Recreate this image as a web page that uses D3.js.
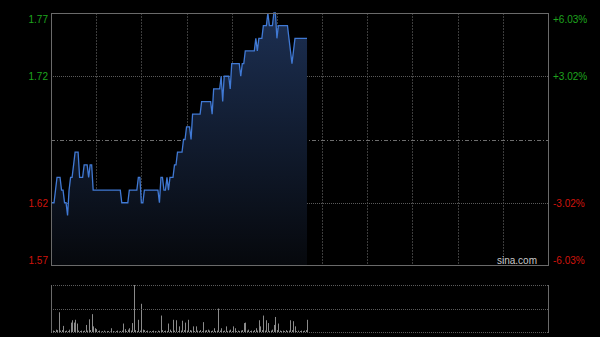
<!DOCTYPE html>
<html>
<head>
<meta charset="utf-8">
<script src="https://cdn.jsdelivr.net/npm/d3@7"></script>
<style>
  body { margin: 0; background: #000; }
  svg { display: block; }
  text { font-family: "Liberation Sans", Arial, sans-serif; font-size: 10px; }
</style>
</head>
<body>
<svg width="600" height="337"></svg>
<script>
(function () {

  // minute-by-minute price (HK session, 330 minutes, chart stops at minute 170)
  var prices = [
    1.62, 1.62, 1.62, 1.63, 1.64, 1.64, 1.64, 1.63, 1.63, 1.62,
    1.62, 1.61, 1.63, 1.64, 1.64, 1.65, 1.66, 1.66, 1.66, 1.64,
    1.64, 1.64, 1.65, 1.65, 1.65, 1.64, 1.65, 1.65, 1.63, 1.63,
    1.63, 1.63, 1.63, 1.63, 1.63, 1.63, 1.63, 1.63, 1.63, 1.63,
    1.63, 1.63, 1.63, 1.63, 1.63, 1.63, 1.63, 1.62, 1.62, 1.62,
    1.62, 1.62, 1.63, 1.63, 1.63, 1.63, 1.63, 1.63, 1.64, 1.64,
    1.62, 1.62, 1.63, 1.63, 1.63, 1.63, 1.63, 1.63, 1.63, 1.63,
    1.63, 1.63, 1.62, 1.64, 1.64, 1.63, 1.63, 1.64, 1.63, 1.64,
    1.64, 1.64, 1.65, 1.65, 1.66, 1.66, 1.66, 1.66, 1.67, 1.67,
    1.68, 1.68, 1.68, 1.67, 1.69, 1.69, 1.69, 1.69, 1.69, 1.69,
    1.70, 1.70, 1.70, 1.70, 1.70, 1.70, 1.70, 1.69, 1.71, 1.71,
    1.71, 1.71, 1.71, 1.72, 1.70, 1.72, 1.72, 1.72, 1.72, 1.71,
    1.73, 1.73, 1.73, 1.73, 1.73, 1.73, 1.72, 1.73, 1.73, 1.74,
    1.74, 1.74, 1.74, 1.74, 1.74, 1.74, 1.75, 1.74, 1.75, 1.75,
    1.75, 1.76, 1.76, 1.76, 1.77, 1.76, 1.76, 1.76, 1.77, 1.77,
    1.75, 1.76, 1.76, 1.76, 1.76, 1.76, 1.76, 1.76, 1.75, 1.74,
    1.73, 1.74, 1.75, 1.75, 1.75, 1.75, 1.75, 1.75, 1.75, 1.75,
    1.75
  ]

  // volume per minute, relative units (biggest bar = 100)
  var volumes = [
    40, 3, 2, 5, 4, 42, 3, 4, 13, 2,
    3, 2, 5, 20, 25, 20, 26, 18, 3, 2,
    3, 2, 3, 15, 3, 27, 4, 38, 12, 8,
    6, 2, 3, 1, 2, 3, 1, 2, 2, 1,
    8, 2, 1, 2, 3, 1, 2, 3, 18, 6,
    2, 5, 8, 3, 19, 100, 4, 2, 26, 3,
    60, 5, 4, 2, 3, 1, 2, 2, 3, 2,
    1, 3, 2, 35, 4, 2, 3, 2, 18, 5,
    2, 26, 3, 25, 2, 12, 3, 24, 4, 20,
    3, 26, 4, 3, 12, 2, 12, 3, 2, 4,
    2, 21, 3, 4, 5, 3, 2, 3, 8, 2,
    3, 50, 3, 8, 2, 3, 12, 2, 3, 5,
    2, 12, 8, 2, 3, 2, 3, 4, 19, 20,
    3, 5, 2, 3, 2, 4, 8, 3, 25, 12,
    4, 35, 3, 25, 19, 2, 3, 5, 15, 32,
    4, 18, 3, 2, 3, 2, 4, 2, 3, 25,
    4, 23, 12, 2, 3, 2, 3, 2, 3, 4,
    26
  ]

  var prevClose = 1.67
  var leftTicks = [1.77, 1.72, 1.62, 1.57]
  var rightTicks = ['+6.03%', '+3.02%', '-3.02%', '-6.03%']
  var totalMinutes = 330

  var svg = d3.select('svg')

  var x = d3.scaleLinear().domain([0, totalMinutes]).range([51, 548])
  var y = d3.scaleLinear().domain([1.57, 1.77]).range([266, 13])
  var yVol = d3.scaleLinear().domain([0, 100]).range([332, 285])

  // gradient under the price line
  var grad = svg.append('defs').append('linearGradient')
    .attr('id', 'fill')
    .attr('gradientUnits', 'userSpaceOnUse')
    .attr('x1', 0).attr('y1', 13).attr('x2', 0).attr('y2', 266)
  grad.append('stop').attr('offset', 0).attr('stop-color', '#1c2f52')
  grad.append('stop').attr('offset', 1).attr('stop-color', '#06080c')

  // vertical grid, every 30 minutes
  var vLines = d3.range(30, totalMinutes, 30)
  svg.selectAll('.vgrid')
    .data(vLines)
    .enter().append('line')
    .attr('x1', d => Math.round(x(d)) + 0.5)
    .attr('x2', d => Math.round(x(d)) + 0.5)
    .attr('y1', 13)
    .attr('y2', 266)
    .attr('stroke', '#3c3c3c')
    .attr('stroke-dasharray', '2,1')

  // horizontal grid at the inner ticks
  svg.selectAll('.hgrid')
    .data([1.72, 1.62])
    .enter().append('line')
    .attr('x1', 51)
    .attr('x2', 548)
    .attr('y1', d => Math.round(y(d)) + 0.5)
    .attr('y2', d => Math.round(y(d)) + 0.5)
    .attr('stroke', '#5a5a5a')
    .attr('stroke-dasharray', '1,1')

  // previous close line
  svg.append('line')
    .attr('x1', 51)
    .attr('x2', 548)
    .attr('y1', Math.round(y(prevClose)) + 0.5)
    .attr('y2', Math.round(y(prevClose)) + 0.5)
    .attr('stroke', '#6e6e6e')
    .attr('stroke-dasharray', '4,2,1,2')

  var area = d3.area()
    .x((d, i) => x(i))
    .y0(266)
    .y1(d => y(d))

  var line = d3.line()
    .x((d, i) => x(i))
    .y(d => y(d))

  svg.append('path')
    .datum(prices)
    .attr('d', area)
    .attr('fill', 'url(#fill)')

  svg.append('path')
    .datum(prices)
    .attr('d', line)
    .attr('fill', 'none')
    .attr('stroke', '#4079d4')
    .attr('stroke-width', 1.3)

  // frame of the price panel
  svg.append('rect')
    .attr('x', 51.5)
    .attr('y', 13.5)
    .attr('width', 497)
    .attr('height', 252)
    .attr('fill', 'none')
    .attr('stroke', '#6a6a6a')

  // left labels
  svg.selectAll('.ltick')
    .data(leftTicks)
    .enter().append('text')
    .attr('x', 48)
    .attr('y', function(d, i) {
      if (i === 0) return y(d) + 10
      if (i === leftTicks.length - 1) return y(d) - 2
      return y(d) + 4
    })
    .attr('text-anchor', 'end')
    .attr('fill', d => d > prevClose ? '#1ea51e' : '#d0140c')
    .text(d => d.toFixed(2))

  // right labels
  svg.selectAll('.rtick')
    .data(rightTicks)
    .enter().append('text')
    .attr('x', 553)
    .attr('y', function(d, i) {
      var v = leftTicks[i]
      if (i === 0) return y(v) + 10
      if (i === rightTicks.length - 1) return y(v) - 2
      return y(v) + 4
    })
    .attr('fill', d => d[0] === '+' ? '#1ea51e' : '#d0140c')
    .text(d => d)

  svg.append('text')
    .attr('x', 537)
    .attr('y', 264)
    .attr('text-anchor', 'end')
    .attr('fill', '#c8c8c8')
    .text('sina.com')

  // volume panel
  svg.selectAll('.vbar')
    .data(volumes)
    .enter().append('rect')
    .attr('x', (d, i) => Math.round(x(i)))
    .attr('y', d => yVol(d))
    .attr('width', 1)
    .attr('height', d => 332 - yVol(d))
    .attr('fill', '#8a8a8a')

  svg.selectAll('.volgrid')
    .data([285, 309, 332])
    .enter().append('line')
    .attr('x1', 51)
    .attr('x2', 548)
    .attr('y1', d => d + 0.5)
    .attr('y2', d => d + 0.5)
    .attr('stroke', '#5c5c5c')
    .attr('stroke-dasharray', '1,1')

  svg.selectAll('.volside')
    .data([51, 548])
    .enter().append('line')
    .attr('x1', d => d + 0.5)
    .attr('x2', d => d + 0.5)
    .attr('y1', 285)
    .attr('y2', 333)
    .attr('stroke', '#6a6a6a')

})()
</script>
</body>
</html>
